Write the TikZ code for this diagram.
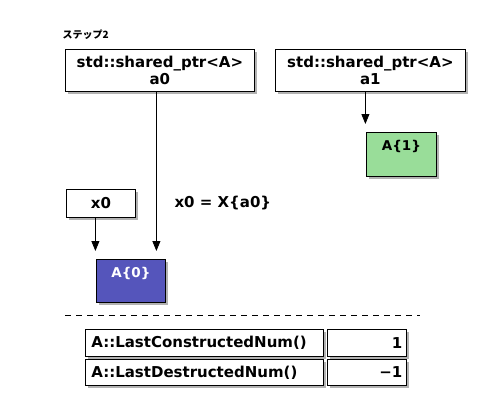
\documentclass[tikz,border=0pt]{standalone}
\usepackage{fontspec}
\setmainfont{DejaVu Sans}
\newfontfamily\jpfont{Noto Sans CJK JP}
\usetikzlibrary{arrows.meta,shadows}
\definecolor{objblue}{RGB}{85,85,187}
\definecolor{objgreen}{RGB}{153,221,153}

\begin{document}
\begin{tikzpicture}[x=1pt,y=-1pt,
  every node/.style={font=\bfseries\fontsize{15}{16.5}\selectfont},
  box/.style={draw,line width=0.8pt,fill=white,inner sep=0pt,anchor=north west,align=center,
    drop shadow={shadow xshift=2.5pt,shadow yshift=-2.5pt,fill=black,opacity=0.3}},
  objbox/.style={box,minimum width=70pt,minimum height=44pt,text height=10pt,text depth=17pt,
    font=\bfseries\fontsize{13.5}{15}\selectfont},
  ptr/.style={-{Triangle[length=10pt,width=8pt]},line width=0.8pt,shorten >=8pt}]
\useasboundingbox (0,0) rectangle (490,420);

\node[anchor=west,font=\jpfont\bfseries\fontsize{10}{12}\selectfont] (step) at (59,35) {ステップ2};

\node[box,minimum width=189pt,minimum height=42pt] (a0) at (65,49) {std::shared\_ptr<A>\\a0};
\node[box,minimum width=190pt,minimum height=42pt] (a1) at (275,49) {std::shared\_ptr<A>\\a1};
\node[objbox,fill=objgreen] (A1) at (366,132) {A\{1\}};

\node[box,minimum width=69pt,minimum height=28pt] (x0) at (66,189) {x0};
\node[anchor=west] (assign) at (171,203) {x0 = X\{a0\}};
\node[objbox,fill=objblue,text=white,minimum width=69pt,minimum height=43pt] (A0) at (96,259) {A\{0\}};

\draw[ptr] ([xshift=-3.5pt]a0.south) -- ([xshift=-3.5pt]a0.south |- A0.north);
\draw[ptr] ([xshift=-5.5pt]x0.south) -- ([xshift=-5.5pt]x0.south |- A0.north);
\draw[ptr] ([xshift=-5pt]a1.south) -- ([xshift=-5pt]a1.south |- A1.north);

\draw[dash pattern=on 6pt off 5pt,line width=0.8pt] (65,315) -- (420,315);

\node[box,minimum width=238pt,minimum height=27pt,text width=226pt,align=left] (cnum) at (85,329) {A::LastConstructedNum()};
\node[box,minimum width=79pt,minimum height=27pt,text width=71pt,align=right] (cval) at (327,329) {1};
\node[box,minimum width=238pt,minimum height=26pt,text width=226pt,align=left] (dnum) at (85,359) {A::LastDestructedNum()};
\node[box,minimum width=79pt,minimum height=26pt,text width=71pt,align=right] (dval) at (327,359) {−1};
\end{tikzpicture}
\end{document}
